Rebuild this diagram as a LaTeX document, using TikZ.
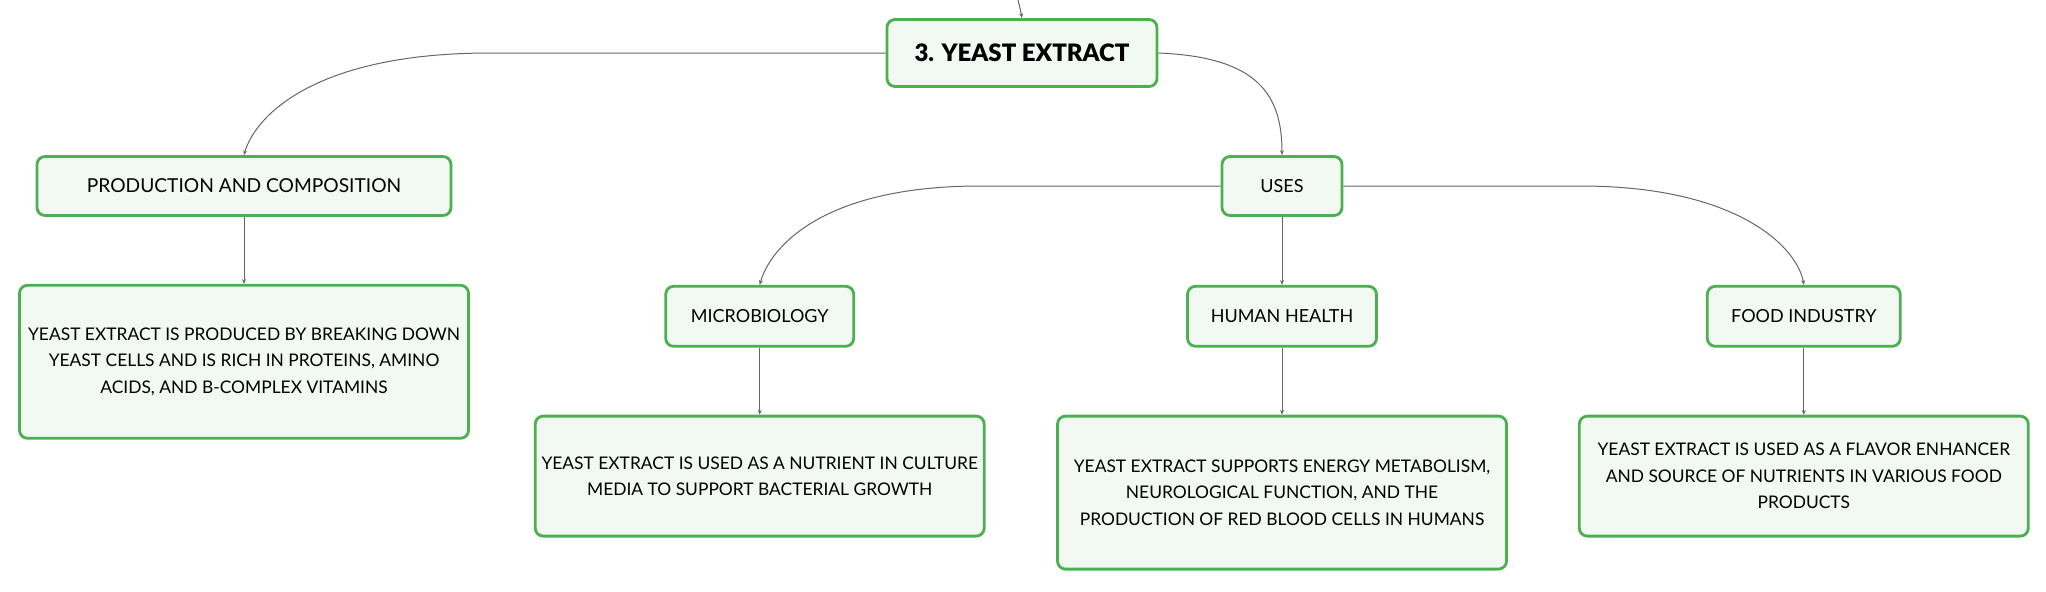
\documentclass[tikz,border=0pt]{standalone}
\usepackage{fontspec}
\setmainfont{Lato}
\newfontfamily\titlefont{Lato Black}
\usetikzlibrary{positioning, calc, arrows.meta}

\definecolor{boxgreen}{HTML}{4CAF50}
\definecolor{boxfill}{HTML}{F2F9F2}
\definecolor{linkgray}{HTML}{666666}

\begin{document}
\begin{tikzpicture}[>={Stealth[length=2.4pt,width=2pt]}]
\tikzset{
  blk/.style={draw=boxgreen, fill=boxfill, line width=1.4pt, rounded corners=4pt, align=center, inner sep=2pt, font=\fontsize{9}{13.5}\selectfont},
  txt/.style={blk, minimum width=224.5pt, font=\fontsize{8.7}{13.3}\selectfont},
  link/.style={draw=linkgray, line width=0.5pt, ->}
}
\useasboundingbox (0,0) rectangle (1023pt,-295.5pt);

% row 1
\node[blk, minimum width=135pt, minimum height=33.5pt, font=\fontsize{12}{14}\titlefont] (root) at (511pt,-26.5pt) {3. YEAST EXTRACT};
\coordinate (up) at (508.5pt,2pt);
\draw[link] (up) .. controls (510pt,-4pt) .. (root.north);

% row 2
\node[blk, minimum width=207pt, minimum height=29.5pt, font=\fontsize{9.6}{13.5}\selectfont] (prod) at (122pt,-93pt) {PRODUCTION AND COMPOSITION};
\node[blk, minimum width=60pt, minimum height=29.5pt] (uses) at (641pt,-93pt) {USES};

\draw[link] (root.west) -- (245pt,-26.5pt) .. controls +(-90pt,0) and +(5pt,18pt) .. (prod.north);
\draw[link] (root.east) .. controls +(50pt,-2pt) and +(0,30pt) .. (uses.north);

\node[txt, minimum height=76.5pt, below=33.5pt of prod] (prodtxt) {YEAST EXTRACT IS PRODUCED BY BREAKING DOWN\\YEAST CELLS AND IS RICH IN PROTEINS, AMINO\\ACIDS, AND B-COMPLEX VITAMINS};
\draw[link] (prod) -- (prodtxt);

% row 3 : uses
\node[blk, minimum width=94.5pt, minimum height=30pt, below=34pt of uses] (health) {HUMAN HEALTH};
\node[blk, minimum width=94pt, minimum height=30pt, left=165.5pt of health] (micro) {MICROBIOLOGY};
\node[blk, minimum width=96.5pt, minimum height=30pt, right=164pt of health] (food) {FOOD INDUSTRY};

\draw[link] (uses) -- (health);
\draw[link] (uses.west) -- (490pt,-93pt) .. controls +(-80pt,0) and +(5pt,18pt) .. (micro.north);
\draw[link] (uses.east) -- (790pt,-93pt) .. controls +(80pt,0) and +(-3pt,18pt) .. (food.north);

% row 4 : descriptions
\node[txt, minimum height=60pt, below=33.5pt of micro] (microtxt) {YEAST EXTRACT IS USED AS A NUTRIENT IN CULTURE\\MEDIA TO SUPPORT BACTERIAL GROWTH};
\node[txt, minimum height=76.5pt, below=33.5pt of health] (healthtxt) {YEAST EXTRACT SUPPORTS ENERGY METABOLISM,\\NEUROLOGICAL FUNCTION, AND THE\\PRODUCTION OF RED BLOOD CELLS IN HUMANS};
\node[txt, minimum height=60pt, below=33.5pt of food] (foodtxt) {YEAST EXTRACT IS USED AS A FLAVOR ENHANCER\\AND SOURCE OF NUTRIENTS IN VARIOUS FOOD\\PRODUCTS};

\draw[link] (micro) -- (microtxt);
\draw[link] (health) -- (healthtxt);
\draw[link] (food) -- (foodtxt);

\end{tikzpicture}
\end{document}
